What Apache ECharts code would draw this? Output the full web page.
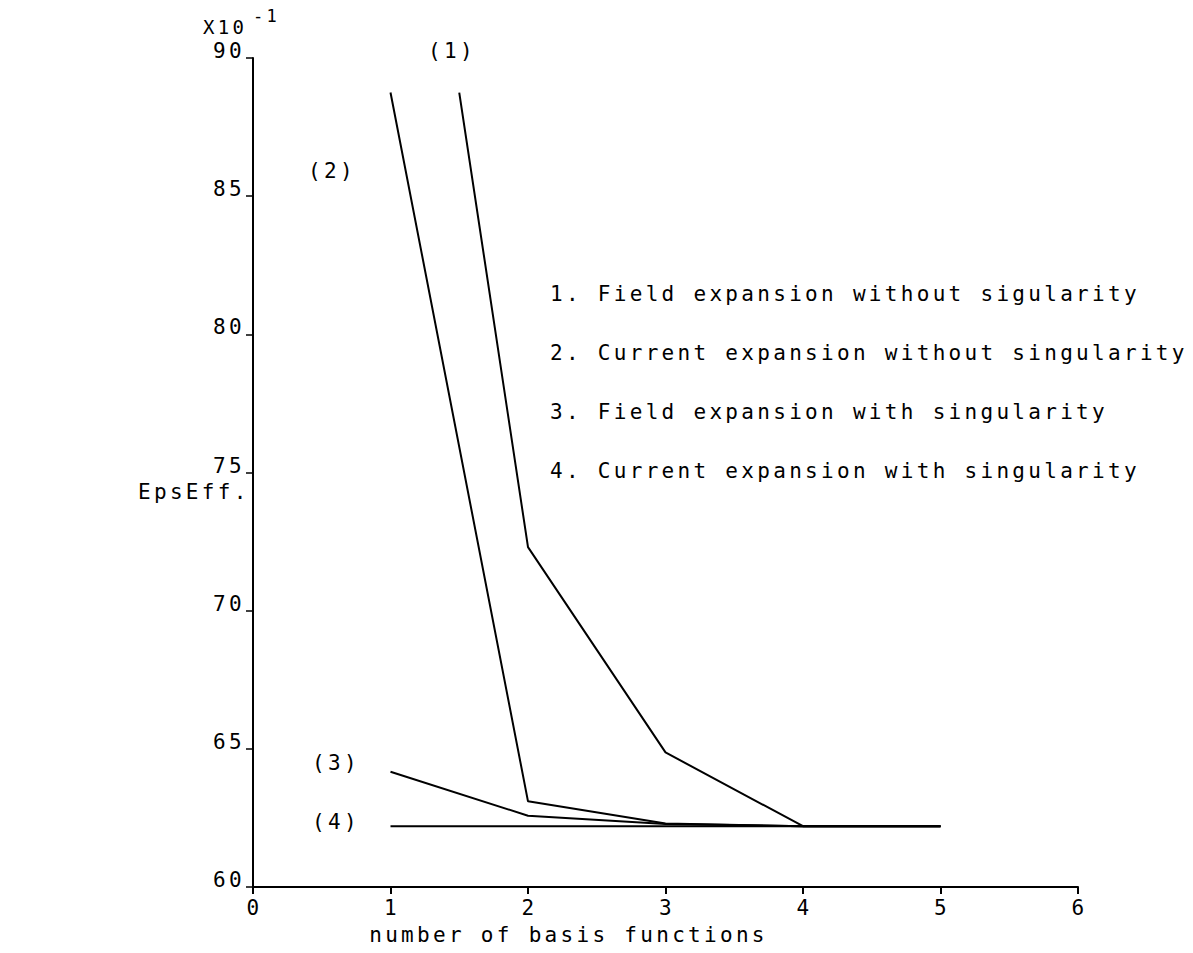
<!DOCTYPE html>
<html>
<head>
<meta charset="utf-8">
<script src="https://cdn.jsdelivr.net/npm/echarts@6/dist/echarts.min.js"></script>
<style>
html,body{margin:0;padding:0;background:#fff;}
#chart{width:1193px;height:953px;}
#chart svg text{letter-spacing:3.3px;}
</style>
</head>
<body>
<div id="chart"></div>
<script>
// ---- data ----
const seriesNames = [
  '1. Field expansion without sigularity',
  '2. Current expansion without singularity',
  '3. Field expansion with singularity',
  '4. Current expansion with singularity'
];
const curveTags = ['(1)', '(2)', '(3)', '(4)'];
const x1 = [1.5, 2, 3, 4, 5];
const y1 = [88.75, 72.3, 64.87, 62.2, 62.2];
const x2 = [1, 2, 3, 4, 5];
const y2 = [88.75, 63.1, 62.3, 62.2, 62.2];
const x3 = [1, 2, 3, 4, 5];
const y3 = [64.17, 62.58, 62.28, 62.2, 62.2];
const x4 = [1, 2, 3, 4, 5];
const y4 = [62.2, 62.2, 62.2, 62.2, 62.2];
const xTicks = [0, 1, 2, 3, 4, 5, 6];
const yTicks = [60, 65, 70, 75, 80, 85, 90];
const xTitle = 'number of basis functions';
const yTitle = 'EpsEff.';
const yScaleText = 'X10';
const yScaleExp = '-1';

const FONT = 'DejaVu Sans Mono';
const FS = 21;
const pairs = (xs, ys) => xs.map((x, i) => [x, ys[i]]);
const allX = [x1, x2, x3, x4];
const allY = [y1, y2, y3, y4];

const chart = echarts.init(document.getElementById('chart'), null, {renderer: 'svg'});

const series = seriesNames.map((name, i) => ({
  name: name,
  type: 'line',
  data: pairs(allX[i], allY[i]),
  showSymbol: false,
  symbol: 'none',
  lineStyle: {color: '#000', width: 2},
  itemStyle: {color: '#000'},
  animation: false,
  z: 3
}));

function txt(text, x, y, size, align) {
  return {
    type: 'text', x: x, y: y, silent: true,
    style: {
      text: text, fill: '#000',
      font: size + 'px "' + FONT + '"',
      textAlign: align || 'left', textVerticalAlign: 'middle',
      align: align || 'left', verticalAlign: 'middle'
    }
  };
}

const tagPos = [[428, 51], [308, 171], [312, 763], [312, 822]];

chart.setOption({
  animation: false,
  backgroundColor: '#fff',
  textStyle: {fontFamily: FONT, color: '#000'},
  grid: {left: 253, right: 115, top: 58, bottom: 66, containLabel: false},
  legend: {
    data: seriesNames,
    orient: 'vertical',
    left: 540,
    top: 278,
    icon: 'none',
    itemWidth: 0,
    itemHeight: 21,
    itemGap: 38,
    selectedMode: false,
    textStyle: {fontFamily: FONT, fontSize: FS, color: '#000', lineHeight: 21}
  },
  xAxis: {
    type: 'value',
    min: xTicks[0], max: xTicks[xTicks.length - 1], interval: 1,
    name: xTitle,
    nameLocation: 'middle',
    nameGap: 37,
    nameTextStyle: {fontFamily: FONT, fontSize: FS, color: '#000', align: 'center', padding: [0, 194, 0, 0]},
    axisLine: {onZero: false, lineStyle: {color: '#000', width: 2}},
    axisTick: {show: true, length: 7, lineStyle: {color: '#000', width: 2}},
    axisLabel: {fontFamily: FONT, fontSize: FS, color: '#000', margin: 10, padding: [0, 0, 0, 3]},
    splitLine: {show: false}
  },
  yAxis: {
    type: 'value',
    min: yTicks[0], max: yTicks[yTicks.length - 1], interval: 5,
    axisLine: {onZero: false, lineStyle: {color: '#000', width: 2}},
    axisTick: {show: true, length: 7, lineStyle: {color: '#000', width: 1.5}},
    axisLabel: {fontFamily: FONT, fontSize: FS, color: '#000', margin: 8, verticalAlign: 'bottom', lineHeight: 14},
    splitLine: {show: false}
  },
  graphic: [
    txt(yScaleText, 203, 27, 19),
    txt(yScaleExp, 253, 16, 17),
    txt(yTitle, 138, 492, FS)
  ].concat(curveTags.map((t, i) => txt(t, tagPos[i][0], tagPos[i][1], FS))),
  series: series
});
</script>
</body>
</html>
